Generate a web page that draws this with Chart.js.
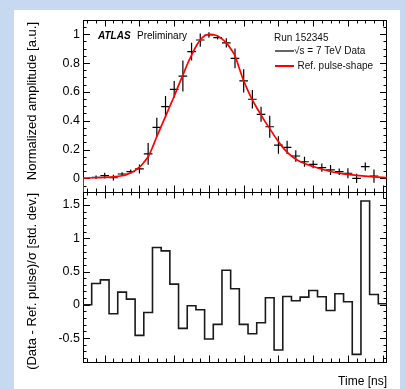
<!DOCTYPE html>
<html>
<head>
<meta charset="utf-8">
<title>Pulse shape</title>
<script src="https://cdn.jsdelivr.net/npm/chart.js"></script>
<style>
  body { margin: 0; background: #c6d9f0; }
  #panel { position: absolute; left: 14px; top: 10px; width: 386px; height: 379px; background: #fff; }
  canvas { position: absolute; left: 0; top: 0; }
</style>
</head>
<body>
<div id="panel"></div>
<canvas id="topChart" width="405" height="389"></canvas>
<canvas id="botChart" width="405" height="389"></canvas>
<script>
  // measured pulse (bin centres, ns) with errors
  const dataTime = [-65, -60, -55, -50, -45, -40, -35, -30, -25, -20, -15, -10, -5, 0, 5, 10, 15, 20,
                    25, 30, 35, 40, 45, 50, 55, 60, 65, 70, 75, 80, 85, 90, 95];
  const dataAmp = [0.007, 0.018, 0.004, 0.03, 0.046, 0.065, 0.17, 0.354, 0.497, 0.618, 0.71, 0.879, 0.96,
                   0.995, 0.976, 0.94, 0.833, 0.676, 0.549, 0.444, 0.358, 0.231, 0.215, 0.155, 0.115,
                   0.097, 0.074, 0.058, 0.046, 0.035, 0.0, 0.081, 0.016];
  const dataErr = [0.012, 0.02, 0.02, 0.012, 0.015, 0.031, 0.075, 0.067, 0.074, 0.058, 0.108, 0.062, 0.046,
                   0.019, 0.012, 0.032, 0.069, 0.081, 0.064, 0.052, 0.077, 0.061, 0.046, 0.04, 0.035,
                   0.027, 0.029, 0.035, 0.023, 0.035, 0.032, 0.028, 0.046];

  // reference pulse shape
  const refTime = [-72.5, -72.4, -65, -60, -55, -50, -47.5, -45, -42.5, -40, -37.5, -35, -32.5, -30,
                   -27.5, -25, -22.5, -20, -17.5, -15, -12.5, -10, -7.5, -5, -2.5, 0, 2.5, 5, 7.5, 10,
                   12.5, 15, 17.5, 20, 22.5, 25, 27.5, 30, 32.5, 35, 37.5, 40, 42.5, 45, 47.5, 50,
                   55, 60, 65, 70, 75, 80, 85, 90, 95, 102.5];
  const refAmp = [-0.2, 0.002, 0.004, 0.006, 0.01, 0.018, 0.026, 0.038, 0.055, 0.077, 0.11, 0.15, 0.215,
                  0.29, 0.36, 0.43, 0.50, 0.57, 0.645, 0.717, 0.79, 0.855, 0.915, 0.96, 0.99, 1.0, 0.998,
                  0.988, 0.968, 0.94, 0.9, 0.85, 0.762, 0.677, 0.607, 0.545, 0.49, 0.44, 0.39, 0.345,
                  0.298, 0.255, 0.215, 0.182, 0.155, 0.133, 0.103, 0.082, 0.063, 0.047, 0.036, 0.027,
                  0.02, 0.015, 0.01, 0.005];

  // residuals per 5 ns bin
  const binCenters = [-70, -65, -60, -55, -50, -45, -40, -35, -30, -25, -20, -15, -10, -5, 0, 5, 10, 15,
                      20, 25, 30, 35, 40, 45, 50, 55, 60, 65, 70, 75, 80, 85, 90, 95, 100];
  const residual = [0.0, 0.32, 0.375, -0.135, 0.19, 0.085, -0.46, -0.115, 0.86, 0.81, 0.31, -0.355, -0.015,
                    -0.075, -0.515, -0.295, 0.52, 0.24, -0.295, -0.435, -0.27, 0.105, -0.68, 0.125, 0.06,
                    0.115, 0.215, 0.12, -0.085, 0.165, 0.045, -0.745, 1.56, 0.155, 0.015];

  const xTicks = [-60, -40, -20, 0, 20, 40, 60, 80, 100];
  const yTopTicks = [0, 0.2, 0.4, 0.6, 0.8, 1];
  const yBotTicks = [-0.5, 0, 0.5, 1, 1.5];

  const HALF_BIN = 2.5;
  const FONT = "'Liberation Sans', Arial, sans-serif";

  Chart.defaults.font.family = FONT;
  Chart.defaults.font.size = 12;
  Chart.defaults.color = '#000';

  // error crosses as broken line segments
  const crossPts = [];
  dataTime.forEach((t, i) => {
    const v = dataAmp[i], e = dataErr[i];
    crossPts.push({x: t - HALF_BIN, y: v}, {x: t + HALF_BIN, y: v}, {x: t, y: null},
                  {x: t, y: v - e}, {x: t, y: v + e}, {x: t, y: null});
  });
  const refPts = refTime.map((t, i) => ({x: t, y: refAmp[i]}));
  const stepPts = [];
  binCenters.forEach((c, i) => {
    stepPts.push({x: c - HALF_BIN, y: residual[i]}, {x: c + HALF_BIN, y: residual[i]});
  });

  function nearMult(v, step) {
    return Math.abs(v / step - Math.round(v / step)) < 1e-6;
  }

  // ROOT-like frame with inner ticks on all four sides
  function framePlugin(cfg) {
    return {
      id: 'frame',
      beforeDatasetsDraw(chart) {
        const {ctx, chartArea: a, scales} = chart;
        const xs = scales.x, ys = scales.y;
        ctx.save();
        ctx.strokeStyle = '#000';
        ctx.lineWidth = 1;
        ctx.beginPath();
        for (let v = cfg.xMinor[0]; v <= cfg.xMinor[1] + 1e-9; v += cfg.xMinor[2]) {
          const px = Math.round(xs.getPixelForValue(v)) + 0.5;
          const len = nearMult(v, cfg.xMajor) ? 6.5 : 3.5;
          ctx.moveTo(px, a.bottom); ctx.lineTo(px, a.bottom - len);
          ctx.moveTo(px, a.top); ctx.lineTo(px, a.top + len);
        }
        for (let v = cfg.yMinor[0]; v <= cfg.yMinor[1] + 1e-9; v += cfg.yMinor[2]) {
          const py = Math.round(ys.getPixelForValue(v)) + 0.5;
          const len = nearMult(v, cfg.yMajor) ? 7 : 3.5;
          ctx.moveTo(a.left, py); ctx.lineTo(a.left + len, py);
          ctx.moveTo(a.right, py); ctx.lineTo(a.right - len, py);
        }
        ctx.stroke();
        ctx.strokeRect(Math.round(a.left) + 0.5, Math.round(a.top) + 0.5,
                       Math.round(a.right - a.left) - 1, Math.round(a.bottom - a.top));
        ctx.restore();
      },
      afterDraw(chart) {
        const ctx = chart.ctx;
        ctx.save();
        ctx.fillStyle = '#000';
        cfg.texts(ctx, chart);
        ctx.restore();
      }
    };
  }

  function vTitle(ctx, text, x, yTop) {
    ctx.save();
    ctx.translate(x, yTop);
    ctx.rotate(-Math.PI / 2);
    ctx.font = '13px ' + FONT;
    ctx.textAlign = 'right';
    ctx.textBaseline = 'middle';
    ctx.fillText(text, 0, 0);
    ctx.restore();
  }

  const tickLabel = v => String(Math.round(v * 10) / 10);

  new Chart(document.getElementById('topChart'), {
    type: 'line',
    data: {
      datasets: [
        { label: 'Ref. pulse-shape', data: refPts, borderColor: '#ff0000', borderWidth: 1.7,
          pointRadius: 0, cubicInterpolationMode: 'monotone', fill: false },
        { label: 'Data', data: crossPts, borderColor: '#000', borderWidth: 1.2,
          pointRadius: 0, tension: 0, spanGaps: false, fill: false }
      ]
    },
    options: {
      responsive: false,
      animation: false,
      devicePixelRatio: 1,
      layout: { padding: { left: 0, top: 20, right: 18, bottom: 197 } },
      plugins: { legend: { display: false }, tooltip: { enabled: false } },
      scales: {
        x: {
          type: 'linear', min: -72.5, max: 102.5,
          grid: { display: false }, border: { display: false },
          ticks: { display: false },
          afterFit: s => { s.height = 0; }
        },
        y: {
          type: 'linear', min: -0.095, max: 1.099,
          grid: { display: false, drawTicks: false }, border: { display: false },
          ticks: { padding: 3, font: { size: 12.5 }, callback: tickLabel },
          afterBuildTicks: s => { s.ticks = yTopTicks.map(v => ({ value: v })); },
          afterFit: s => { s.width = 83; }
        }
      }
    },
    plugins: [framePlugin({
      xMinor: [-70, 100, 5], xMajor: 20,
      yMinor: [-0.05, 1.05, 0.05], yMajor: 0.2,
      texts(ctx) {
        vTitle(ctx, 'Normalized amplitude [a.u.]', 32, 22);
        ctx.textBaseline = 'middle';
        ctx.textAlign = 'left';
        ctx.font = 'italic bold 10px ' + FONT;
        ctx.fillText('ATLAS', 98, 36);
        ctx.font = '10px ' + FONT;
        ctx.fillText('Preliminary', 137, 36);
        ctx.fillStyle = '#111';
        ctx.fillText('Run 152345', 274, 38.5);
        ctx.fillText('√s = 7 TeV Data', 294, 51);
        ctx.fillText('Ref. pulse-shape', 297.5, 66);
        ctx.lineWidth = 1.5;
        ctx.strokeStyle = '#333';
        ctx.beginPath(); ctx.moveTo(275, 51); ctx.lineTo(294, 51); ctx.stroke();
        ctx.lineWidth = 2;
        ctx.strokeStyle = '#ff0000';
        ctx.beginPath(); ctx.moveTo(275, 66); ctx.lineTo(294, 66); ctx.stroke();
      }
    })]
  });

  new Chart(document.getElementById('botChart'), {
    type: 'line',
    data: {
      datasets: [
        { label: 'Residual', data: stepPts, borderColor: '#1a1a1a', borderWidth: 1.6,
          pointRadius: 0, tension: 0, fill: false }
      ]
    },
    options: {
      responsive: false,
      animation: false,
      devicePixelRatio: 1,
      layout: { padding: { left: 0, top: 192, right: 18, bottom: 27 } },
      plugins: { legend: { display: false }, tooltip: { enabled: false } },
      scales: {
        x: {
          type: 'linear', min: -72.5, max: 102.5,
          grid: { display: false, drawTicks: false }, border: { display: false },
          ticks: { padding: 2, font: { size: 12.5 }, maxRotation: 0, callback: v => String(v) },
          afterBuildTicks: s => { s.ticks = xTicks.map(v => ({ value: v })); },
          afterFit: s => { s.height = 0; }
        },
        y: {
          type: 'linear', min: -0.86, max: 1.695,
          grid: { display: false, drawTicks: false }, border: { display: false },
          ticks: { padding: 3, font: { size: 12.5 }, callback: tickLabel },
          afterBuildTicks: s => { s.ticks = yBotTicks.map(v => ({ value: v })); },
          afterFit: s => { s.width = 83; }
        }
      }
    },
    plugins: [framePlugin({
      xMinor: [-70, 100, 5], xMajor: 20,
      yMinor: [-0.8, 1.6, 0.1], yMajor: 0.5,
      texts(ctx) {
        vTitle(ctx, '(Data - Ref. pulse)/σ [std. dev.]', 32, 193);
        ctx.font = '12px ' + FONT;
        ctx.textAlign = 'right';
        ctx.textBaseline = 'middle';
        ctx.fillText('Time [ns]', 387, 382);
      }
    })]
  });
</script>
</body>
</html>
